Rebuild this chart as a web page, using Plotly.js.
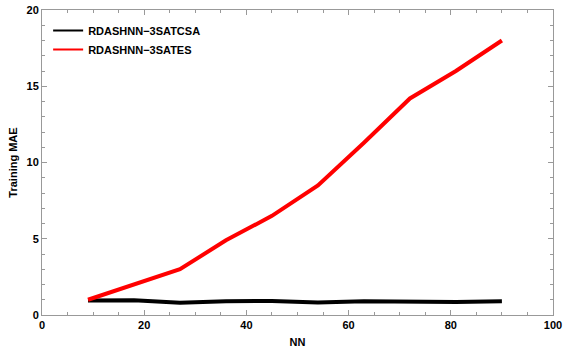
<!DOCTYPE html>
<html><head><meta charset="utf-8">
<script src="https://cdn.plot.ly/plotly-3.0.1.min.js"></script>
<style>html,body{margin:0;padding:0;background:#fff}#c{width:564px;height:350px}</style>
</head><body><div id="c"></div>
<script>
var nn = [9, 18, 27, 36, 45, 54, 63, 72, 81, 90];
var satcsa = [0.95, 0.97, 0.8, 0.9, 0.92, 0.82, 0.9, 0.87, 0.85, 0.9];
var sates = [1.0, 2.0, 3.0, 4.9, 6.5, 8.5, 11.3, 14.2, 16.0, 18.0];
var names = ["RDASHNN\u22123SATCSA", "RDASHNN\u22123SATES"];
var colors = ["#000000", "#ff0000"];

var fontF = "Liberation Sans, Arial, sans-serif";
var traces = [
  {x: nn, y: satcsa, mode: "lines", name: names[0], showlegend: false, line: {color: colors[0], width: 4}},
  {x: nn, y: sates, mode: "lines", name: names[1], showlegend: false, line: {color: colors[1], width: 4}},
  {x: [null], y: [null], mode: "lines", name: names[0], line: {color: colors[0], width: 2}},
  {x: [null], y: [null], mode: "lines", name: names[1], line: {color: colors[1], width: 2}}
];
var axisCommon = {
  showgrid: false, zeroline: false, showline: true, linecolor: "#999999", linewidth: 1,
  mirror: "allticks", ticks: "inside", ticklen: 5, tickcolor: "#999999", tickwidth: 1,
  tickfont: {family: fontF, size: 11, color: "#000", weight: "bold"}
};
var layout = {
  width: 564, height: 350,
  margin: {l: 42, r: 11, t: 10, b: 35},
  paper_bgcolor: "#fff", plot_bgcolor: "#fff",
  showlegend: true,
  legend: {x: 0.012, y: 0.98, xanchor: "left", yanchor: "top", bgcolor: "rgba(0,0,0,0)",
    itemwidth: 30,
    font: {family: fontF, size: 11, color: "#000", weight: "bold"}, tracegroupgap: 0},
  xaxis: Object.assign({}, axisCommon, {range: [0, 100], dtick: 20, tick0: 0,
    minor: {dtick: 5, ticklen: 3, tickcolor: "#999999", ticks: "inside"},
    title: {text: "NN", font: {family: fontF, size: 11, color: "#000", weight: "bold"}, standoff: 8}}),
  yaxis: Object.assign({}, axisCommon, {range: [0, 20], dtick: 5, tick0: 0,
    minor: {dtick: 1, ticklen: 3, tickcolor: "#999999", ticks: "inside"},
    title: {text: "Training MAE", font: {family: fontF, size: 11, color: "#000", weight: "bold"}, standoff: 6}})
};
Plotly.newPlot("c", traces, layout, {displayModeBar: false, staticPlot: true});
</script></body></html>
